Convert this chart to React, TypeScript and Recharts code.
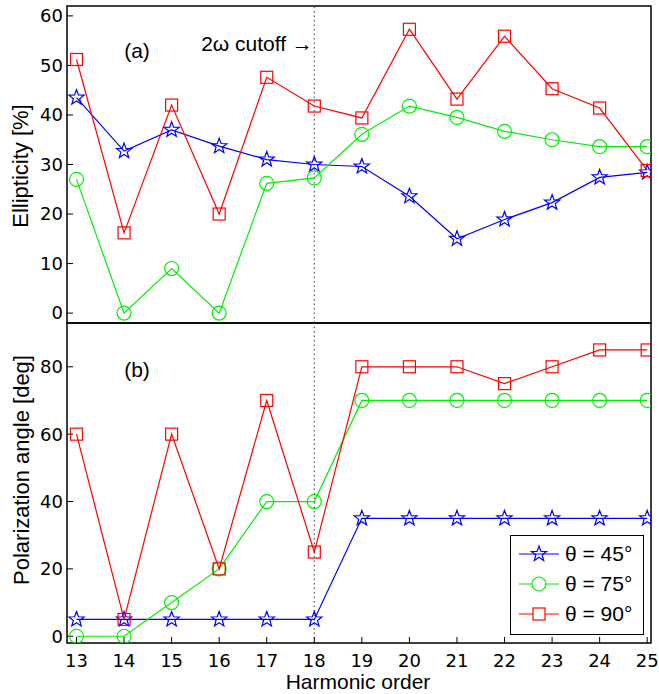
import { LineChart, Line, XAxis, YAxis, ReferenceLine, ReferenceArea, Legend } from "recharts";

const harmonics = [13, 14, 15, 16, 17, 18, 19, 20, 21, 22, 23, 24, 25];

// (a) ellipticity [%]
const ellip45 = [43.5, 32.7, 37, 33.7, 31, 30, 29.6, 23.6, 15, 18.9, 22.3, 27.4, 28.4];
const ellip75 = [27, 0, 9, 0, 26.2, 27.3, 36.1, 41.8, 39.5, 36.7, 35, 33.6, 33.6];
const ellip90 = [51.2, 16.2, 42, 20, 47.6, 41.8, 39.4, 57.3, 43.2, 55.9, 45.3, 41.4, 28.8];

// (b) polarization angle [deg]
const angle45 = [5, 5, 5, 5, 5, 5, 35, 35, 35, 35, 35, 35, 35];
const angle75 = [0, 0, 10, 20, 40, 40, 70, 70, 70, 70, 70, 70, 70];
const angle90 = [60, 5, 60, 20, 70, 25, 80, 80, 80, 75, 80, 85, 85];

const seriesLabels = ["θ = 45°", "θ = 75°", "θ = 90°"];
const ellipTicks = [0, 10, 20, 30, 40, 50, 60];
const angleTicks = [0, 20, 40, 60, 80];
const xDomain = [12.8, 25.08];
const ellipDomain = [-2, 62];
const angleDomain = [-2, 93];
const cutoffOrder = 18;

const BLUE = "#0000ff";
const GREEN = "#00ee00";
const RED = "#ff0000";
const FONT = "'Liberation Sans', Arial, Helvetica, sans-serif";
const TICK_FONT = "'DejaVu Sans', 'Liberation Sans', sans-serif";

const topData = harmonics.map((h, i) => ({ h, s45: ellip45[i], s75: ellip75[i], s90: ellip90[i] }));
const bottomData = harmonics.map((h, i) => ({ h, s45: angle45[i], s75: angle75[i], s90: angle90[i] }));

const starPoints = (cx: number, cy: number) => {
	const pts: string[] = [];
	for (let i = 0; i < 10; i++) {
		const r = i % 2 === 0 ? 8 : 3.3;
		const a = -Math.PI / 2 + (i * Math.PI) / 5;
		pts.push(`${cx + r * Math.cos(a)},${cy + r * Math.sin(a)}`);
	}
	return pts.join(" ");
};

const StarDot = (props: any) => {
	const { cx, cy } = props;
	if (cx == null || cy == null) return <g />;
	return <polygon points={starPoints(cx, cy)} fill="none" stroke={BLUE} strokeWidth={1.2} />;
};

const SquareDot = (props: any) => {
	const { cx, cy } = props;
	if (cx == null || cy == null) return <g />;
	return <rect x={cx - 6} y={cy - 6} width={12} height={12} fill="none" stroke={RED} strokeWidth={1.2} />;
};

const tickStyle = { fill: "#000", fontSize: 18, fontFamily: TICK_FONT };

const LegendBox = () => (
	<div
		style={{
			border: "1px solid #000",
			background: "#fff",
			width: 132,
			height: 95,
			paddingTop: 3,
			boxSizing: "content-box",
			fontFamily: FONT,
			fontSize: 21,
			color: "#000",
		}}
	>
		{seriesLabels.map((label, i) => {
			const color = [BLUE, GREEN, RED][i];
			return (
				<div key={label} style={{ display: "flex", alignItems: "center", height: 30 }}>
					<svg width={50} height={24} style={{ marginLeft: 4 }}>
						<line x1={4} x2={44} y1={12} y2={12} stroke={color} strokeWidth={1.2} />
						{i === 0 && <polygon points={starPoints(24, 12)} fill="none" stroke={color} strokeWidth={1.2} />}
						{i === 1 && <circle cx={24} cy={12} r={7} fill="#fff" stroke={color} strokeWidth={1.2} />}
						{i === 2 && <rect x={18} y={6} width={12} height={12} fill="#fff" stroke={color} strokeWidth={1.2} />}
					</svg>
					<span>{label}</span>
				</div>
			);
		})}
	</div>
);

const seriesLines = () => [
	<Line
		key="s45"
		yAxisId="l"
		dataKey="s45"
		stroke={BLUE}
		strokeWidth={1.2}
		dot={<StarDot />}
		activeDot={false}
		isAnimationActive={false}
	/>,
	<Line
		key="s75"
		yAxisId="l"
		dataKey="s75"
		stroke={GREEN}
		strokeWidth={1.2}
		dot={{ r: 7, fill: "none", stroke: GREEN, strokeWidth: 1.2 }}
		activeDot={false}
		isAnimationActive={false}
	/>,
	<Line
		key="s90"
		yAxisId="l"
		dataKey="s90"
		stroke={RED}
		strokeWidth={1.2}
		dot={<SquareDot />}
		activeDot={false}
		isAnimationActive={false}
	/>,
];

const textAt = (x: number, y: number, extra: React.CSSProperties = {}): React.CSSProperties => ({
	position: "absolute",
	left: x,
	top: y,
	transform: "translate(-50%, -50%)",
	whiteSpace: "nowrap",
	fontFamily: FONT,
	fontSize: 21,
	lineHeight: 1,
	color: "#000",
	...extra,
});

export default function App() {
	return (
		<div style={{ position: "absolute", left: 0, top: 0, width: 659, height: 694, background: "#fff" }}>
			{/* (a) ellipticity */}
			<div style={{ position: "absolute", left: 0, top: 0 }}>
				<LineChart width={659} height={330} data={topData} margin={{ top: 6, right: 7, bottom: 7, left: 0 }}>
					<XAxis dataKey="h" type="number" domain={xDomain} ticks={harmonics} allowDataOverflow hide />
					<YAxis
						yAxisId="l"
						type="number"
						domain={ellipDomain}
						ticks={ellipTicks}
						interval={0}
						allowDataOverflow
						width={67}
						axisLine={false}
						tickSize={-6}
						tickMargin={10}
						tickLine={{ stroke: "#000" }}
						tick={tickStyle}
					/>
					<YAxis
						yAxisId="r"
						orientation="right"
						type="number"
						domain={ellipDomain}
						ticks={ellipTicks}
						interval={0}
						allowDataOverflow
						width={1}
						axisLine={false}
						tickSize={-6}
						tickLine={{ stroke: "#000" }}
						tick={false}
					/>
					<ReferenceArea yAxisId="l" y1={ellipDomain[0]} y2={ellipDomain[1]} fill="none" stroke="#000" strokeWidth={1.5} />
					<ReferenceLine yAxisId="l" x={cutoffOrder} stroke="#555" strokeDasharray="1.5 3" strokeWidth={1.2} />
					{seriesLines()}
				</LineChart>
			</div>

			{/* (b) polarization angle */}
			<div style={{ position: "absolute", left: 0, top: 322 }}>
				<LineChart width={659} height={372} data={bottomData} margin={{ top: 0, right: 7, bottom: 0, left: 0 }}>
					<XAxis
						dataKey="h"
						type="number"
						domain={xDomain}
						ticks={harmonics}
						interval={0}
						allowDataOverflow
						height={51}
						axisLine={false}
						tickSize={-6}
						tickMargin={17}
						tickLine={{ stroke: "#000" }}
						tick={tickStyle}
					/>
					<XAxis
						xAxisId="top"
						orientation="top"
						dataKey="h"
						type="number"
						domain={xDomain}
						ticks={harmonics}
						interval={0}
						allowDataOverflow
						height={1}
						axisLine={false}
						tickSize={-6}
						tickLine={{ stroke: "#000" }}
						tick={false}
					/>
					<YAxis
						yAxisId="l"
						type="number"
						domain={angleDomain}
						ticks={angleTicks}
						interval={0}
						allowDataOverflow
						width={67}
						axisLine={false}
						tickSize={-6}
						tickMargin={10}
						tickLine={{ stroke: "#000" }}
						tick={tickStyle}
					/>
					<YAxis
						yAxisId="r"
						orientation="right"
						type="number"
						domain={angleDomain}
						ticks={angleTicks}
						interval={0}
						allowDataOverflow
						width={1}
						axisLine={false}
						tickSize={-6}
						tickLine={{ stroke: "#000" }}
						tick={false}
					/>
					<ReferenceArea yAxisId="l" y1={angleDomain[0]} y2={angleDomain[1]} fill="none" stroke="#000" strokeWidth={1.5} />
					<ReferenceLine yAxisId="l" x={cutoffOrder} stroke="#555" strokeDasharray="1.5 3" strokeWidth={1.2} />
					{seriesLines()}
					<Legend
						layout="vertical"
						align="center"
						verticalAlign="middle"
						content={() => <LegendBox />}
						wrapperStyle={{ left: 510, top: 213, width: 134, height: 99 }}
					/>
				</LineChart>
			</div>

			<div style={textAt(137, 50)}>(a)</div>
			<div style={textAt(257, 43)}>2ω cutoff →</div>
			<div style={textAt(137, 369)}>(b)</div>
			<div style={textAt(21, 166, { fontSize: 22, transform: "translate(-50%, -50%) rotate(-90deg)" })}>Ellipticity [%]</div>
			<div style={textAt(22, 470, { fontSize: 22, transform: "translate(-50%, -50%) rotate(-90deg)" })}>Polarization angle [deg]</div>
			<div style={textAt(358, 681)}>Harmonic order</div>
		</div>
	);
}
